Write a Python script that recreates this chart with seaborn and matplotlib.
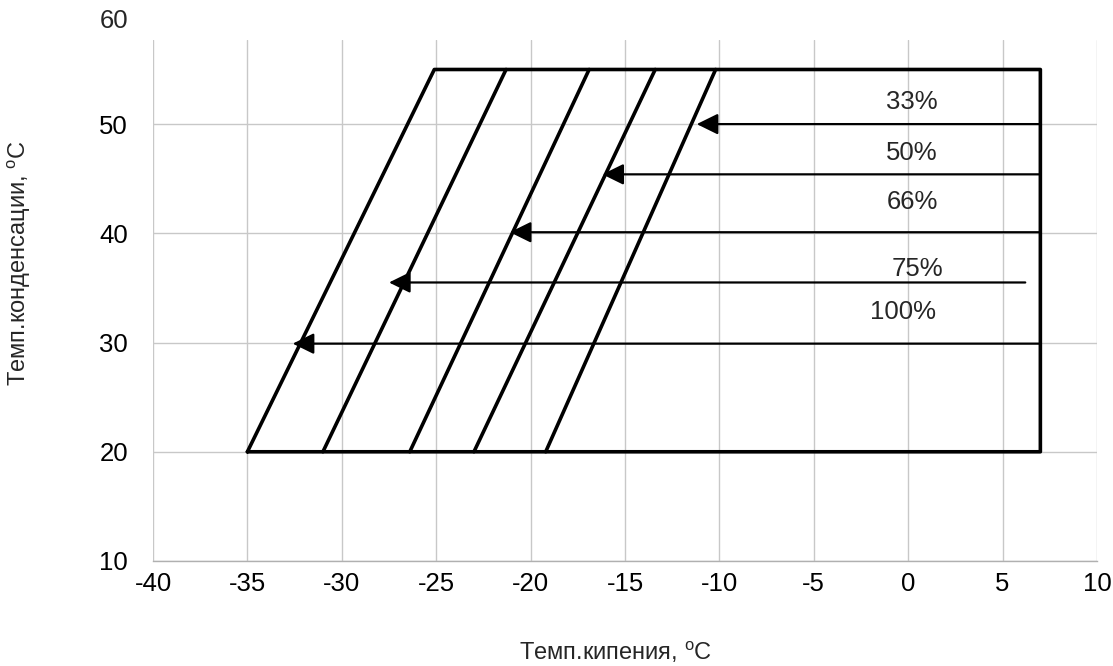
import matplotlib
matplotlib.use("Agg")
import matplotlib.pyplot as plt
import seaborn as sns
import pandas as pd

# ---- data ----
x_ticks = [-40, -35, -30, -25, -20, -15, -10, -5, 0, 5, 10]
y_ticks = [10, 20, 30, 40, 50]
y_top_label = 60

# envelope outline (evaporating temp, condensing temp)
outline_x = [-35, 7, 7, -25.1, -35]
outline_y = [20, 20, 55, 55, 20]

# capacity boundary lines (bottom x at 20 °C, top x at 55 °C)
bound_bottom_x = [-31.0, -26.4, -23.0, -19.2]
bound_top_x = [-21.3, -16.9, -13.4, -10.2]
bound_y = [20, 55]

# arrows: labels, y level, start x, tip x
arrow_labels = ["33%", "50%", "66%", "75%", "100%"]
arrow_y = [50.0, 45.4, 40.1, 35.5, 29.9]
arrow_start = [7.0, 7.0, 7.0, 6.2, 7.0]
arrow_tip = [-11.2, -16.2, -21.1, -27.5, -32.6]
label_x = [0.2, 0.2, 0.2, 0.5, -0.3]
label_y = [52.0, 47.4, 42.9, 36.7, 32.8]

# ---- style ----
sns.set_theme(style="white")
plt.rcParams["font.family"] = ["Liberation Sans", "DejaVu Sans"]
plt.rcParams["mathtext.fontset"] = "custom"
plt.rcParams["mathtext.rm"] = "Liberation Sans"
plt.rcParams["mathtext.it"] = "Liberation Sans"
plt.rcParams["axes.unicode_minus"] = False

fig = plt.figure(figsize=(11.13, 6.66), dpi=100)
ax = fig.add_axes([153 / 1113, 1 - 561 / 666, (1097 - 153) / 1113, (561 - 40) / 666])

ax.set_xlim(-40, 10)
ax.set_ylim(10, 57.7)
ax.set_xticks(x_ticks)
ax.set_yticks(y_ticks)
ax.grid(True, color="#c8c8c8", linewidth=1.0)
for s in ["left", "right", "top"]:
    ax.spines[s].set_visible(False)
ax.spines["bottom"].set_color("#b0b0b0")
ax.spines["bottom"].set_linewidth(1.0)
ax.tick_params(axis="x", labelsize=18.5, pad=8, length=0, colors="black")
ax.tick_params(axis="y", labelsize=18.5, pad=18, length=0, colors="black")
ax.text(-41.3, 59.4, str(y_top_label), fontsize=18.5, ha="right", va="center",
        clip_on=False)

# envelope outline
df_out = pd.DataFrame({"x": outline_x, "y": outline_y})
sns.lineplot(data=df_out, x="x", y="y", sort=False, estimator=None,
             color="black", linewidth=2.6, ax=ax)

# boundary lines
rows = []
for i, (xb, xt) in enumerate(zip(bound_bottom_x, bound_top_x)):
    rows.append({"line": i, "x": xb, "y": bound_y[0]})
    rows.append({"line": i, "x": xt, "y": bound_y[1]})
df_b = pd.DataFrame(rows)
sns.lineplot(data=df_b, x="x", y="y", units="line", estimator=None, sort=False,
             color="black", linewidth=2.6, ax=ax)

# arrows
for lab, yv, xs, xt, lx, ly in zip(arrow_labels, arrow_y, arrow_start, arrow_tip, label_x, label_y):
    ax.annotate("", xy=(xt, yv), xytext=(xs, yv),
                arrowprops=dict(arrowstyle="-|>,head_length=0.65,head_width=0.32",
                                mutation_scale=20, color="black", lw=1.6,
                                shrinkA=0, shrinkB=0))
    ax.text(lx, ly, lab, fontsize=18.5, ha="center", va="center")

ax.set_xlabel("Темп.кипения, $^{\\mathrm{o}}$C", fontsize=17)
ax.set_ylabel("Темп.конденсации, $^{\\mathrm{o}}$C", fontsize=17)
ax.xaxis.set_label_coords((616 - 153) / 944, -0.152)
ax.yaxis.set_label_coords((33 - 153) / 944, (561 - 263) / 521)

fig.savefig("out.png", dpi=100)
